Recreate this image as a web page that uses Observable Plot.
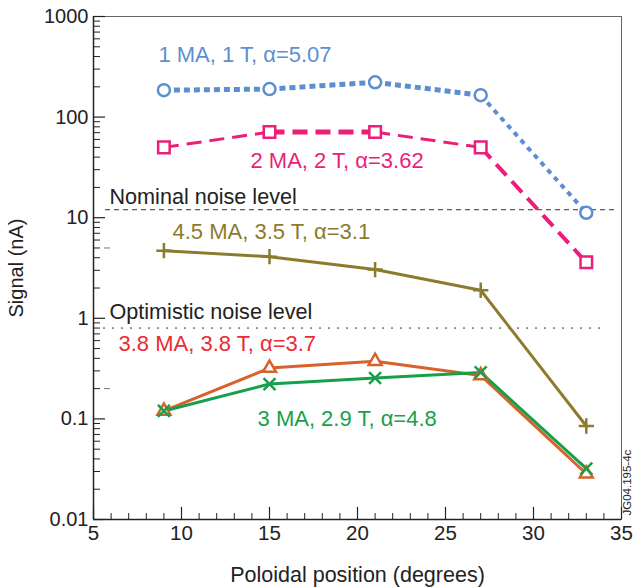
<!DOCTYPE html>
<html>
<head>
<meta charset="utf-8">
<script src="https://cdn.jsdelivr.net/npm/d3@7"></script>
<script src="https://cdn.jsdelivr.net/npm/@observablehq/plot@0.6"></script>
<style>
  html, body { margin: 0; padding: 0; background: #fff; }
  #chart { width: 634px; height: 587px; }
</style>
</head>
<body>
<div id="chart"></div>
<script>
// ---- data ----
const positions = [9, 15, 21, 27, 33];
const signal1MA = [185, 190, 222, 165, 11.2];
const signal2MA = [50, 71, 71, 50, 3.6];
const signal45MA = [4.7, 4.1, 3.05, 1.9, 0.085];
const signal38MA = [0.12, 0.32, 0.375, 0.27, 0.0285];
const signal3MA = [0.12, 0.222, 0.255, 0.29, 0.032];

const seriesNames = ["1 MA, 1 T, α=5.07", "2 MA, 2 T, α=3.62", "4.5 MA, 3.5 T, α=3.1", "3.8 MA, 3.8 T, α=3.7", "3 MA, 2.9 T, α=4.8"];
const seriesLabelX = [8.69, 13.92, 9.49, 6.42, 14.32];
const seriesLabelY = [411, 36.7, 7.26, 0.553, 0.1];

const noiseNames = ["Nominal noise level", "Optimistic noise level"];
const noiseValues = [12, 0.8];
const noiseLabelX = [5.91, 5.91];
const noiseLabelY = [16.1, 1.15];

const xMajorTicks = [5, 10, 15, 20, 25, 30, 35];
const xMinorTicks = d3.range(5, 36).filter(v => v % 5 !== 0);
const yMajorTicks = [0.01, 0.1, 1, 10, 100, 1000];
const yTickLabels = ["0.01", "0.1", "1", "10", "100", "1000"];
const yMinorTicks = [];
for (let i = 0; i < 5; i++) for (let m = 2; m <= 9; m++) yMinorTicks.push(+(m * yMajorTicks[i]).toPrecision(3));
const extraMarks = [5, 0.2];
const figureCode = "JG04.195-4c";

// ---- styles ----
const colors = ["#5b8fd2", "#ec1e7a", "#8c7b2c", "#d9622b", "#17a04b"];
const labelColors = ["#5b8fd2", "#ec1e7a", "#8c7b2c", "#ec2a33", "#17a04b"];

function segments(values, widths) {
  return positions.slice(0, -1).map((x, i) => ({x1: x, y1: values[i], x2: positions[i + 1], y2: values[i + 1], w: widths[i]}));
}
function points(values) {
  return positions.map((x, i) => ({x, y: values[i]}));
}

const M = {left: 93, right: 13, top: 16, bottom: 68};
const W = 634, H = 587;
const innerW = W - M.left - M.right, innerH = H - M.top - M.bottom;

const blueSegs = segments(signal1MA, [5, 5, 5, 4]);
const magSegs = segments(signal2MA, [3, 5, 3, 4]);

const marks = [
  // noise levels
  Plot.ruleY([noiseValues[0]], {stroke: "#333", strokeWidth: 1, strokeDasharray: "5 4", insetLeft: 12, insetRight: 6}),
  Plot.ruleY([noiseValues[1]], {stroke: "#333", strokeWidth: 1, strokeDasharray: "2 7", insetLeft: 10, insetRight: 18}),
  Plot.ruleY(extraMarks, {stroke: "#777", strokeWidth: 1, insetLeft: 11, insetRight: innerW - 17}),
  Plot.text(noiseNames, {x: (d, i) => noiseLabelX[i], y: (d, i) => noiseLabelY[i], text: d => d, textAnchor: "start", fill: "#222", fontSize: 21.6}),
  // lines
  Plot.link(blueSegs.slice(0, 3), {x1: "x1", y1: "y1", x2: "x2", y2: "y2", stroke: colors[0], strokeWidth: "w", strokeDasharray: "6 4"}),
  Plot.link(blueSegs.slice(3), {x1: "x1", y1: "y1", x2: "x2", y2: "y2", stroke: colors[0], strokeWidth: "w", strokeDasharray: "5 5"}),
  Plot.link(magSegs, {x1: "x1", y1: "y1", x2: "x2", y2: "y2", stroke: colors[1], strokeWidth: "w", strokeDasharray: "15 8"}),
  Plot.line(points(signal45MA), {x: "x", y: "y", stroke: colors[2], strokeWidth: 3}),
  Plot.line(points(signal38MA), {x: "x", y: "y", stroke: colors[3], strokeWidth: 3}),
  Plot.line(points(signal3MA), {x: "x", y: "y", stroke: colors[4], strokeWidth: 3}),
  // symbols
  Plot.dot(points(signal1MA), {x: "x", y: "y", symbol: "circle", r: 6, stroke: colors[0], strokeWidth: 2.5, fill: "white"}),
  Plot.dot(points(signal2MA), {x: "x", y: "y", symbol: "square", r: 6.5, stroke: colors[1], strokeWidth: 2.5, fill: "white"}),
  Plot.dot(points(signal45MA), {x: "x", y: "y", symbol: "plus", r: 5, stroke: colors[2], strokeWidth: 2.5}),
  Plot.dot(points(signal38MA), {x: "x", y: "y", symbol: "triangle", r: 4.8, stroke: colors[3], strokeWidth: 2.5, fill: "white"}),
  Plot.dot(points(signal3MA), {x: "x", y: "y", symbol: "times", r: 5.5, stroke: colors[4], strokeWidth: 2.5}),
  // series labels
  Plot.text(seriesNames, {x: (d, i) => seriesLabelX[i], y: (d, i) => seriesLabelY[i], text: d => d, textAnchor: "start", fill: (d, i) => labelColors[i], fontSize: 22}),
  // frame
  Plot.frame({stroke: "#666", strokeWidth: 1}),
  Plot.ruleX([5], {stroke: "#222", strokeWidth: 1.5}),
  Plot.ruleY([0.01], {stroke: "#222", strokeWidth: 1.5}),
  // inward ticks
  Plot.tickY(yMajorTicks, {y: d => d, stroke: "#222", strokeWidth: 1.2, insetRight: innerW - 12}),
  Plot.tickY(yMinorTicks, {y: d => d, stroke: "#222", strokeWidth: 1, insetRight: innerW - 7}),
  Plot.tickX(xMajorTicks, {x: d => d, stroke: "#222", strokeWidth: 1.2, insetTop: innerH - 12}),
  Plot.tickX(xMinorTicks, {x: d => d, stroke: "#222", strokeWidth: 1, insetTop: innerH - 6}),
  // axes
  Plot.axisY(yMajorTicks, {tickSize: 0, tickPadding: 5, tickFormat: d => yTickLabels[yMajorTicks.indexOf(d)], fontSize: 20, fill: "#222", label: null}),
  Plot.axisY([], {tickSize: 0, fontSize: 20, fill: "#222", label: "Signal (nA)", labelAnchor: "center", labelArrow: "none", labelOffset: 85}),
  Plot.axisX(xMajorTicks, {tickSize: 0, tickPadding: 6, tickFormat: d => String(d), fontSize: 20.5, fill: "#222", label: null}),
  Plot.axisX([], {tickSize: 0, fontSize: 21.5, fill: "#222", label: "Poloidal position (degrees)", labelAnchor: "center", labelArrow: "none", labelOffset: 62}),
  // figure code
  Plot.text([figureCode], {frameAnchor: "bottom-right", dx: 9, dy: -4, rotate: -90, textAnchor: "start", fontSize: 11.5, fill: "#222", text: d => d})
];

const chart = Plot.plot({
  width: W,
  height: H,
  marginLeft: M.left, marginRight: M.right, marginTop: M.top, marginBottom: M.bottom,
  style: {fontFamily: "'Liberation Sans', Arial, sans-serif", background: "white", overflow: "visible"},
  x: {domain: [5, 35]},
  y: {type: "log", domain: [0.01, 1000]},
  marks
});
document.getElementById("chart").appendChild(chart);
</script>
</body>
</html>
